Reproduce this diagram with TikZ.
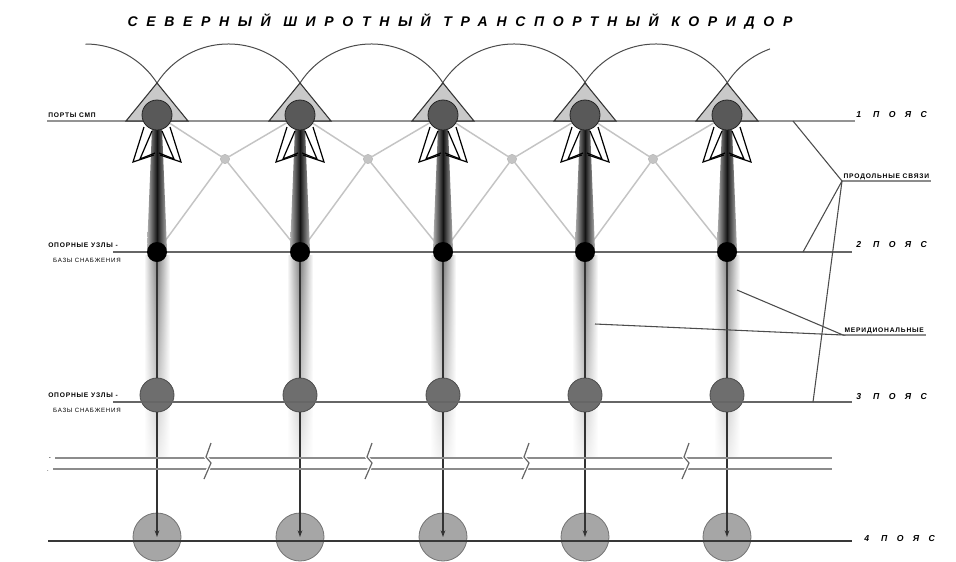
\documentclass[tikz,border=0pt]{standalone}
\usepackage{fontspec}
\setmainfont{Liberation Sans}
\newfontfamily\titlef[LetterSpace=62]{Liberation Sans}
\newfontfamily\beltf[LetterSpace=110]{Liberation Sans}
\newfontfamily\smallf[LetterSpace=12]{Liberation Sans}
\usetikzlibrary{arrows.meta,fadings}
\tikzfading[name=fadedown, top color=transparent!0, bottom color=transparent!88]
\pgfdeclarelayer{back}
\pgfsetlayers{back,main}
\definecolor{topc}{HTML}{595959}
\definecolor{midc}{HTML}{6E6E6E}
\definecolor{botc}{HTML}{A6A6A6}
\definecolor{tric}{HTML}{C9C9C9}
\definecolor{latc}{HTML}{C4C4C4}
\begin{document}
\begin{tikzpicture}[x=0.75pt,y=-0.75pt,
  arcline/.style={draw=black!70,line width=0.75pt},
  beltone/.style={draw=black!42,line width=2pt},
  belttwo/.style={draw=black!60,line width=0.9pt},
  beltfour/.style={draw=black!78,line width=1.8pt},
  latline/.style={draw=latc,line width=1.1pt},
  latdot/.style={circle,fill=latc,draw=black!30,line width=0.3pt,inner sep=0pt,minimum size=7pt},
  portc/.style={circle,fill=topc,draw=black!85,line width=0.6pt,inner sep=0pt,minimum size=22.5pt},
  blkdot/.style={circle,fill=black,inner sep=0pt,minimum size=15pt},
  midcirc/.style={circle,fill=midc,draw=black!70,line width=0.6pt,inner sep=0pt,minimum size=25.5pt},
  botcirc/.style={circle,fill=botc,draw=black!55,line width=0.6pt,inner sep=0pt,minimum size=36pt},
  trif/.style={fill=tric,draw=black!80,line width=0.8pt,line join=miter},
  headline/.style={draw=black,line width=0.9pt,line join=miter},
  vline/.style={draw=black!80,line width=0.9pt},
  dblline/.style={draw=black!45,line width=1.4pt},
  brk/.style={draw=black!60,line width=0.9pt},
  leader/.style={draw=black!70,line width=0.8pt},
  uline/.style={draw=black!45,line width=1.6pt},
  beltlab/.style={anchor=west,inner sep=0pt,font=\beltf\bfseries\itshape\fontsize{6.5}{8}\selectfont},
  smalllab/.style={inner sep=0pt,font=\smallf\bfseries\fontsize{5}{6}\selectfont},
  tinylab/.style={inner sep=0pt,font=\smallf\fontsize{4.6}{5.5}\selectfont}
]
\useasboundingbox (0,0) rectangle (956,561);

% ---------- background layer ----------
\begin{pgfonlayer}{back}
  \fill[white] (0,0) rectangle (956,561);
  % arcs
  \draw[arcline] (85.5,44) arc[start angle=-90,end angle=-6,radius=85];
  \foreach \m in {228.5,371.5,514,656}
    \draw[arcline] (\m-84.5,120.1) arc[start angle=-174,end angle=-6,radius=85];
  \draw[arcline] (714,120.1) arc[start angle=-174,end angle=-109.6,radius=85];
  % light bands below the junctions
  \foreach \x in {157,300,443,585,727}
    \shade[left color=white,right color=white,middle color=black!50,path fading=fadedown]
      (\x-13,256) rectangle (\x+13,458);
  % belts 1 and 2
  \draw[beltone] (47,121) -- (855,121);
  \draw[belttwo] (113,252) -- (852,252);
\end{pgfonlayer}

% ---------- columns ----------
\foreach \i/\x in {1/157,2/300,3/443,4/585,5/727} {
  \shade[left color=black!30,right color=black!30,middle color=black!92]
    (\x-5,128) -- (\x+5,128) -- (\x+10,250) -- (\x-10,250) -- cycle;
  \draw[trif] (\x,83) -- (\x-31,121) -- (\x+31,121) -- cycle;
  \node[portc] (top\i) at (\x,115) {};
  \draw[headline] (\x-13,127) -- (\x-24,162) -- (\x-3,155);
  \draw[headline] (\x+13,127) -- (\x+24,162) -- (\x+3,155);
  \draw[headline] (\x-5,131) -- (\x-17,159) -- (\x-2,153);
  \draw[headline] (\x+5,131) -- (\x+17,159) -- (\x+2,153);
  \node[blkdot] (blk\i) at (\x,252) {};
  \node[midcirc] (mid\i) at (\x,395) {};
  \node[botcirc] (bot\i) at (\x,537) {};
  \draw[vline] (blk\i) -- (mid\i);
  \draw[vline,-{Stealth[length=5pt,width=3.5pt]}] (mid\i) -- (bot\i.center);
}

% lattice of grey ties
\foreach \i/\j/\m in {1/2/225,2/3/368,3/4/512,4/5/653} {
  \node[latdot] (lat\i) at (\m,159) {};
  \begin{pgfonlayer}{back}
    \draw[latline] (top\i) -- (lat\i) -- (top\j);
    \draw[latline] (blk\i) -- (lat\i) -- (blk\j);
  \end{pgfonlayer}
}

% belts 3 and 4
\draw[belttwo] (113,402) -- (852,402);
\draw[beltfour] (48,541) -- (852,541);

% double line with breaks
\draw[dblline] (55,458) -- (832,458);
\draw[dblline] (53,469) -- (832,469);
\foreach \b in {207,368,525,685} {
  \draw[white,line width=2.6pt] (\b+3,446) -- (\b-1,457) -- (\b+4,463) -- (\b-2,476);
  \draw[brk] (\b+4,443) -- (\b-1,457) -- (\b+4,463) -- (\b-3,479);
}
\node[tinylab] (dm1) at (50,459) {-};
\node[tinylab] (dm2) at (48,471) {·};

% title
\node[inner sep=0pt,font=\titlef\bfseries\itshape\fontsize{10.5}{12}\selectfont] (ttl) at (460,22)
  {СЕВЕРНЫЙ ШИРОТНЫЙ ТРАНСПОРТНЫЙ КОРИДОР};

% belt labels
\node[beltlab] (b1) at (856,115) {1 ПОЯС};
\node[beltlab] (b2) at (856,245) {2 ПОЯС};
\node[beltlab] (b3) at (856,397) {3 ПОЯС};
\node[beltlab] (b4) at (864,539) {4 ПОЯС};

% left labels
\node[smalllab,anchor=south west] (ports) at (48,118) {ПОРТЫ СМП};
\node[smalllab,anchor=east] (op2a) at (118,245) {ОПОРНЫЕ УЗЛЫ -};
\node[tinylab,anchor=east] (op2b) at (121,260) {БАЗЫ СНАБЖЕНИЯ};
\node[smalllab,anchor=east] (op3a) at (118,395) {ОПОРНЫЕ УЗЛЫ -};
\node[tinylab,anchor=east] (op3b) at (121,410) {БАЗЫ СНАБЖЕНИЯ};

% right labels and leaders
\node[smalllab,anchor=south west,inner sep=1pt] (prod) at (842,181) {ПРОДОЛЬНЫЕ СВЯЗИ};
\node[smalllab,anchor=south west,inner sep=1pt] (mer) at (843,335) {МЕРИДИОНАЛЬНЫЕ};
\draw[uline] (prod.south west) -- (prod.south east);
\draw[uline] (mer.south west) -- (mer.south east);
\coordinate (p1) at (793,121);
\coordinate (p2) at (803,252);
\coordinate (p3) at (813,402);
\coordinate (q4) at (595,324);
\coordinate (q5) at (737,290);
\draw[leader] (p1) -- (prod.south west) -- (p3);
\draw[leader] (prod.south west) -- (p2);
\draw[leader] (q5) -- (mer.south west) -- (q4);
\end{tikzpicture}
\end{document}
